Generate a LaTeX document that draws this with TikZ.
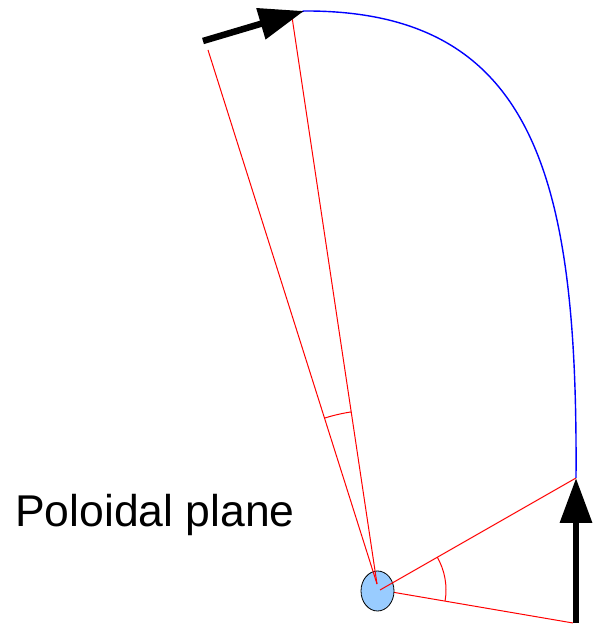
\documentclass[tikz,border=0pt]{standalone}
\usepackage{fontspec}
\setmainfont{Liberation Sans}
\usetikzlibrary{arrows.meta,shapes.geometric}
\definecolor{hubfill}{RGB}{153,204,255}
\tikzset{
  radial/.style={draw=red, line width=1pt},
  angarc/.style={draw=red, line width=1pt},
  fieldline/.style={draw=blue, line width=1.4pt},
  bigarrow/.style={draw=black, line width=6.5pt, -{Triangle[length=45pt,width=31pt]}},
  hub/.style={ellipse, draw=black, line width=0.8pt, fill=hubfill, minimum width=33pt, minimum height=40pt, inner sep=0pt},
  label/.style={anchor=base west, inner sep=0pt, font=\fontsize{44.5}{52}\selectfont}
}
\begin{document}
\begin{tikzpicture}[x=1pt,y=1pt]
\useasboundingbox (0,0) rectangle (593,628);
% key points
\coordinate (cL) at (377,44);
\coordinate (cR) at (380,38);
\coordinate (tA) at (208,578);
\coordinate (tB) at (292,611);
\coordinate (rUp) at (576,150);
\coordinate (rLow) at (573,5);
\coordinate (topTail) at (203,587);
\coordinate (topTip) at (304,617);
\coordinate (rightTail) at (576,5);
% lower radial line (under the hub)
\draw[radial] (cR) -- (rLow);
% hub
\node[hub] (hubnode) at (377.5,37) {};
% radial lines over the hub
\draw[radial] (cL) -- (tA);
\draw[radial] (cL) -- (tB);
\draw[radial] (cR) -- (rUp);
% angle arcs
\draw[angarc] (cL) ++(107.6:174) arc[start angle=107.6, end angle=98.5, radius=174];
\draw[angarc] (cR) ++(29.9:66) arc[start angle=29.9, end angle=-9.6, radius=66];
% field line
\draw[fieldline] (topTail) -- (topTip) .. controls (535,618) and (578,450) .. (rUp);
% arrows
\draw[bigarrow] (topTail) -- (topTip);
\draw[bigarrow] (rightTail) -- (rUp);
% label
\node[label] (lbl) at (15,101) {Poloidal plane};
\end{tikzpicture}
\end{document}
